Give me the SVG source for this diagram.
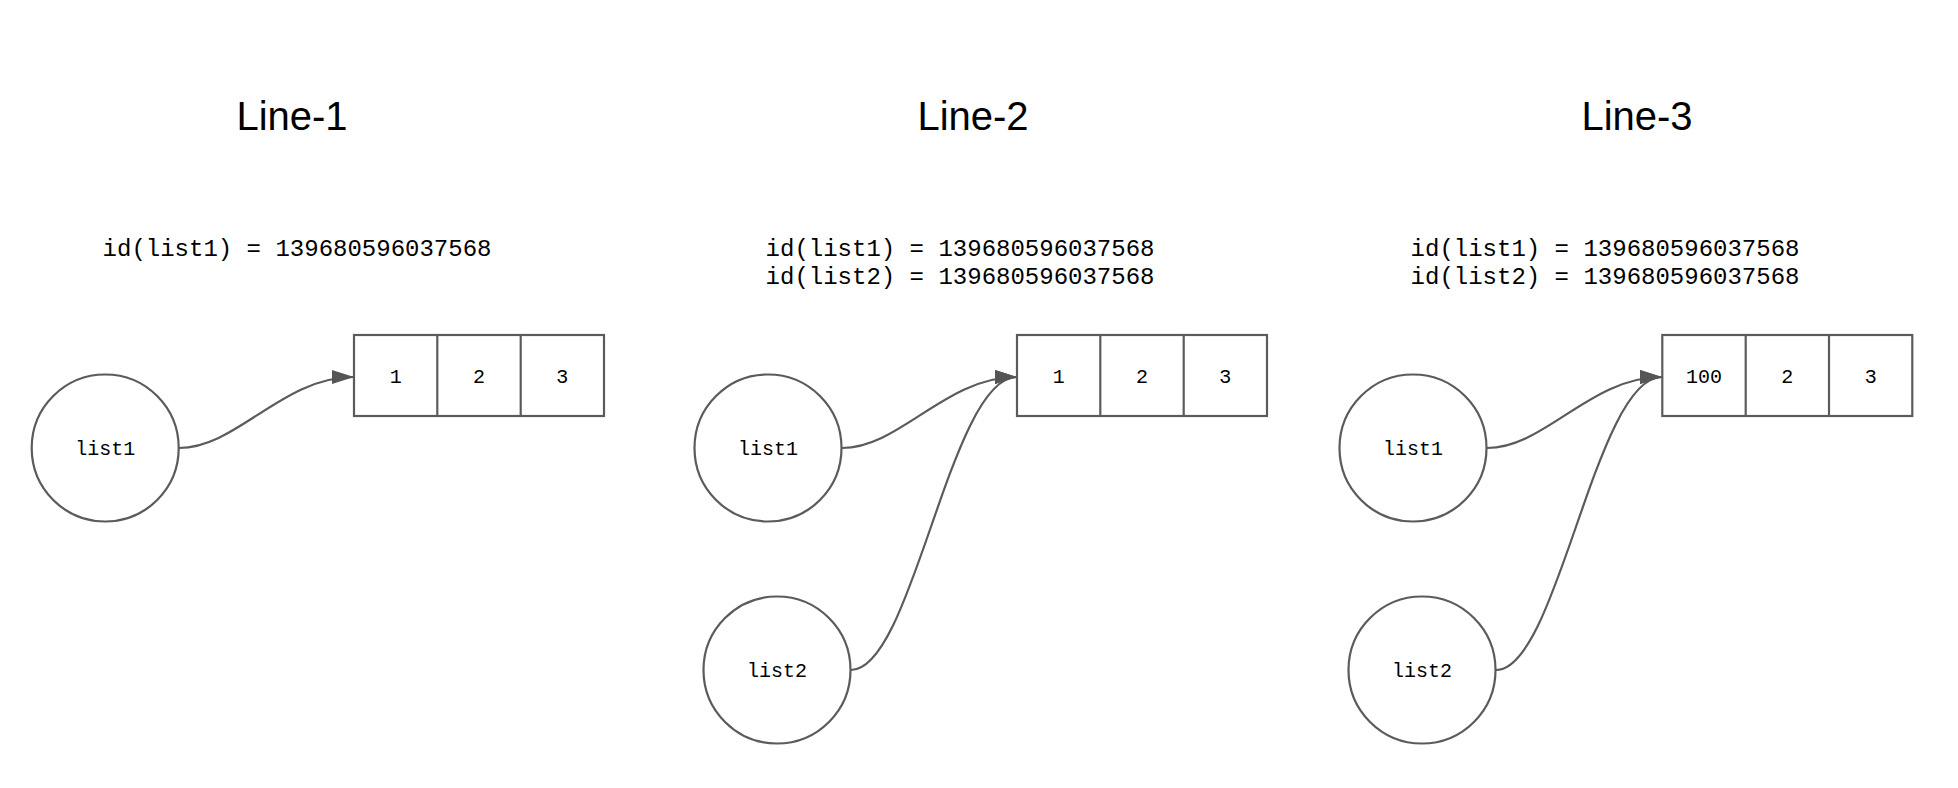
<svg xmlns="http://www.w3.org/2000/svg" width="1958" height="788" viewBox="0 0 1958 788">
<style>
.title{font-family:"Liberation Sans",Arial,sans-serif;font-size:40px;fill:#000;text-anchor:middle}
.code{font-family:"Liberation Mono","Courier New",monospace;font-size:24px;fill:#000}
.lbl{font-family:"Liberation Mono","Courier New",monospace;font-size:20px;fill:#000;text-anchor:middle}
.shape{fill:#fff;stroke:#5b5b5b;stroke-width:2.2}
.edge{fill:none;stroke:#5b5b5b;stroke-width:2.2}
</style>
<defs>
<marker id="arrow" markerUnits="userSpaceOnUse" markerWidth="24" markerHeight="16" refX="22" refY="7" orient="auto" viewBox="0 0 24 16">
<path d="M0,0 L22,7 L0,14 Z" fill="#555"/>
</marker>
</defs>
<rect width="1958" height="788" fill="#fff"/>

<g id="panel1-text">
<text class="title" x="292" y="130">Line-1</text>
<text class="code" x="102.6" y="256">id(list1) = 139680596037568</text>
</g>
<g id="panel2-text">
<text class="title" x="973" y="130">Line-2</text>
<text class="code" x="765.6" y="256">id(list1) = 139680596037568</text>
<text class="code" x="765.6" y="284">id(list2) = 139680596037568</text>
</g>
<g id="panel3-text">
<text class="title" x="1637" y="130">Line-3</text>
<text class="code" x="1410.6" y="256">id(list1) = 139680596037568</text>
<text class="code" x="1410.6" y="284">id(list2) = 139680596037568</text>
</g>

<g id="connectors">
<path class="edge" marker-end="url(#arrow)" d="M179,448 C237,448 282,377 354,377"/>
<path class="edge" marker-end="url(#arrow)" d="M842,448 C900,448 945,377 1017,377"/>
<path class="edge" marker-end="url(#arrow)" d="M851,670 C913,670 950,377 1017,377"/>
<path class="edge" marker-end="url(#arrow)" d="M1487,448 C1545,448 1590,377 1662,377"/>
<path class="edge" marker-end="url(#arrow)" d="M1496,670 C1558,670 1595,377 1662,377"/>
</g>

<g id="p1-list1">
<circle class="shape" cx="105.2" cy="448" r="73.5"/>
<text class="lbl" x="105.2" y="455">list1</text>
</g>
<g id="p1-array">
<rect class="shape" x="354" y="335" width="250" height="81"/>
<line class="shape" x1="437.3" y1="335" x2="437.3" y2="416"/>
<line class="shape" x1="520.7" y1="335" x2="520.7" y2="416"/>
<text class="lbl" x="395.7" y="383">1</text>
<text class="lbl" x="479" y="383">2</text>
<text class="lbl" x="562.3" y="383">3</text>
</g>

<g id="p2-list1">
<circle class="shape" cx="768" cy="448" r="73.5"/>
<text class="lbl" x="768" y="455">list1</text>
</g>
<g id="p2-list2">
<circle class="shape" cx="777" cy="670" r="73.5"/>
<text class="lbl" x="777" y="677">list2</text>
</g>
<g id="p2-array">
<rect class="shape" x="1017" y="335" width="250" height="81"/>
<line class="shape" x1="1100.3" y1="335" x2="1100.3" y2="416"/>
<line class="shape" x1="1183.7" y1="335" x2="1183.7" y2="416"/>
<text class="lbl" x="1058.7" y="383">1</text>
<text class="lbl" x="1142" y="383">2</text>
<text class="lbl" x="1225.3" y="383">3</text>
</g>

<g id="p3-list1">
<circle class="shape" cx="1413" cy="448" r="73.5"/>
<text class="lbl" x="1413" y="455">list1</text>
</g>
<g id="p3-list2">
<circle class="shape" cx="1422" cy="670" r="73.5"/>
<text class="lbl" x="1422" y="677">list2</text>
</g>
<g id="p3-array">
<rect class="shape" x="1662.3" y="335" width="250" height="81"/>
<line class="shape" x1="1745.7" y1="335" x2="1745.7" y2="416"/>
<line class="shape" x1="1829" y1="335" x2="1829" y2="416"/>
<text class="lbl" x="1704" y="383">100</text>
<text class="lbl" x="1787.3" y="383">2</text>
<text class="lbl" x="1870.7" y="383">3</text>
</g>
</svg>
